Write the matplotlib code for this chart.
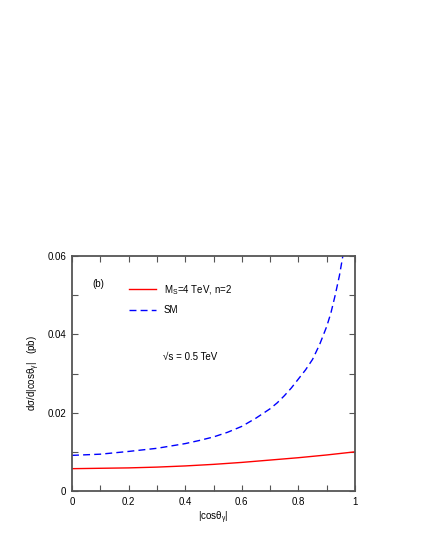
import matplotlib
matplotlib.use("Agg")
import matplotlib.pyplot as plt
from matplotlib.ticker import MultipleLocator, FuncFormatter

plt.rcParams['font.family'] = ['Liberation Sans', 'DejaVu Sans']
plt.rcParams['mathtext.fontset'] = 'custom'
plt.rcParams['mathtext.rm'] = 'Liberation Sans'
plt.rcParams['mathtext.it'] = 'Liberation Sans'

cos_red = [0.0, 0.1, 0.2, 0.3, 0.4, 0.5, 0.6, 0.7, 0.8, 0.9, 1.0]
red_vals = [0.0057, 0.0058, 0.0059, 0.0061, 0.0064, 0.0068, 0.0073, 0.0079, 0.0085, 0.0092, 0.0100]

cos_sm = [0.0, 0.1, 0.2, 0.3, 0.4, 0.45, 0.5, 0.55, 0.6, 0.65, 0.7, 0.725, 0.75, 0.775, 0.8,
          0.825, 0.85, 0.875, 0.9, 0.915, 0.93, 0.945, 0.957, 0.97]
sm_vals = [0.0091, 0.0094, 0.0101, 0.0109, 0.0121, 0.0129, 0.0138, 0.0150, 0.0165, 0.0186, 0.0210, 0.0225, 0.0243, 0.0263, 0.0286,
           0.0309, 0.0336, 0.0374, 0.0420, 0.0455, 0.0500, 0.0550, 0.0600, 0.0660]

W, H = 428, 554
fig = plt.figure(figsize=(W/100, H/100), dpi=100)
ax = fig.add_axes([72/W, 1-491/H, (355-72)/W, (491-256)/H])

ax.plot(cos_red, red_vals, color='#ff0000', lw=1.0, label=r'M$_\mathregular{S}$=4 TeV, n=2')
ax.plot(cos_sm, sm_vals, color='#0000ff', lw=1.0, dashes=(5, 3), label='SM')

ax.set_xlim(0, 1)
ax.set_ylim(0, 0.06)
ax.xaxis.set_major_locator(MultipleLocator(0.2))
ax.xaxis.set_minor_locator(MultipleLocator(0.1))
ax.yaxis.set_major_locator(MultipleLocator(0.02))
ax.yaxis.set_minor_locator(MultipleLocator(0.01))
fmt = FuncFormatter(lambda v, p: '0' if abs(v) < 1e-9 else ('1' if abs(v - 1) < 1e-9 else f'{v:g}'))
ax.xaxis.set_major_formatter(fmt)
ax.yaxis.set_major_formatter(fmt)
ax.tick_params(which='both', direction='in', top=True, right=True, labelsize=7, color='#555555', pad=4)
ax.tick_params(which='major', length=4, width=0.8)
ax.tick_params(which='minor', length=4, width=0.8)
for s in ax.spines.values():
    s.set_color('#555555')
    s.set_linewidth(1.3)

ax.set_xlabel(r'|cos$\mathregular{\theta_\gamma}$|', fontsize=7, labelpad=2)
ax.set_ylabel(r'd$\mathregular{\sigma}$/d|cos$\mathregular{\theta_\gamma}$|   (pb)', fontsize=7, labelpad=4)

ax.text(0.072, 0.88, '(b)', transform=ax.transAxes, fontsize=7, va='center')
ax.text(0.32, 0.57, '\u221as = 0.5 TeV', transform=ax.transAxes, fontsize=7, va='center')

leg = ax.legend(loc='upper left', bbox_to_anchor=(0.2, 0.885), frameon=False, fontsize=7,
                handlelength=2.8, labelspacing=0.9, borderaxespad=0, borderpad=0)

fig.savefig('out.png', dpi=100)
